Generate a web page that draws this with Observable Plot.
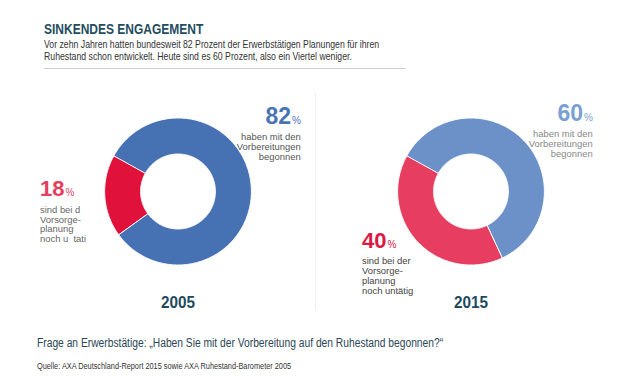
<!DOCTYPE html>
<html><head><meta charset="utf-8">
<script src="https://cdn.jsdelivr.net/npm/d3@7"></script>
<script src="https://cdn.jsdelivr.net/npm/@observablehq/plot@0.6"></script>
<style>
html,body{margin:0;padding:0;background:#fff;}
body{width:621px;height:383px;position:relative;overflow:hidden;font-family:"Liberation Sans",Arial,sans-serif;}
.t{position:absolute;white-space:nowrap;transform-origin:0 0;}
.blk{position:absolute;white-space:nowrap;}
.num{font-weight:bold;}
.num span{font-weight:normal;font-size:10px;margin-left:1px;}
.desc{font-size:8.8px;line-height:9.9px;white-space:pre;}
#chart{position:absolute;left:0;top:80px;}
</style></head><body>
<div class="t" id="title" style="left:44px;top:20.6px;font-size:15px;line-height:15px;font-weight:bold;color:#1f4d5f;transform:scaleX(0.8);">SINKENDES ENGAGEMENT</div>
<div class="t" style="left:44px;top:38.2px;font-size:11px;line-height:12.2px;color:#333;transform:scaleX(0.792);">Vor zehn Jahren hatten bundesweit 82 Prozent der Erwerbstätigen Planungen für ihren<br>Ruhestand schon entwickelt. Heute sind es 60 Prozent, also ein Viertel weniger.</div>
<div style="position:absolute;left:44px;top:68px;width:362px;height:1px;background:#cfcfcf;"></div>
<div style="position:absolute;left:315px;top:93px;width:1px;height:217px;background:#efefef;"></div>
<div id="chart"></div>
<div class="t" style="left:37px;top:337px;font-size:12px;line-height:12px;color:#2b4656;transform:scaleX(0.855);">Frage an Erwerbstätige: „Haben Sie mit der Vorbereitung auf den Ruhestand begonnen?“</div>
<div class="t" style="left:37px;top:362.3px;font-size:8.5px;line-height:8.5px;color:#333;transform:scaleX(0.863);">Quelle: AXA Deutschland-Report 2015 sowie AXA Ruhestand-Barometer 2005</div>
<script>
// ---- data ----
const years = ["2005", "2015"];
const slices = ["begonnen", "untätig"];
const values2005 = [82, 18];
const values2015 = [60, 40];
const colors2005 = ["#4672b4", "#e0113b"];
const colors2015 = ["#6b91c8", "#e63d61"];
const desc2005 = [["haben mit den", "Vorbereitungen", "begonnen"], ["sind bei d", "Vorsorge-", "planung", "noch u  tati"]];
const desc2015 = [["haben mit den", "Vorbereitungen", "begonnen"], ["sind bei der", "Vorsorge-", "planung", "noch untätig"]];

// ---- donut geometry built from the values ----
const startDeg = -61, outerR = 1, innerR = 0.51;
const pts = [];
years.forEach((yr, i) => {
  const vals = i ? values2015 : values2005;
  const cols = i ? colors2015 : colors2005;
  let acc = 0;
  vals.forEach((v, j) => {
    const a0 = startDeg + acc / 100 * 360, a1 = startDeg + (acc + v) / 100 * 360;
    acc += v;
    const n = Math.max(2, Math.ceil(a1 - a0));
    const key = yr + "-" + slices[j];
    for (let k = 0; k <= n; k++) {
      const a = (a0 + (a1 - a0) * k / n) * Math.PI / 180;
      pts.push({year: yr, key, color: cols[j], x: outerR * Math.sin(a), y: outerR * Math.cos(a)});
    }
    for (let k = n; k >= 0; k--) {
      const a = (a0 + (a1 - a0) * k / n) * Math.PI / 180;
      pts.push({year: yr, key, color: cols[j], x: innerR * Math.sin(a), y: innerR * Math.cos(a)});
    }
  });
});

const W = 621, mL = 30, mR = 4, mT = 16, mB = 30, plotH = 190, rPx = 73.5;
const Dx = ((W - mL - mR) / 2) / 2 / rPx;
const Dy = plotH / 2 / rPx;
const chart = Plot.plot({
  width: W, height: mT + plotH + mB,
  marginLeft: mL, marginRight: mR, marginTop: mT, marginBottom: mB,
  x: {domain: [-Dx, Dx], axis: null},
  y: {domain: [-Dy, Dy], axis: null},
  fx: {domain: years, padding: 0, axis: null},
  marks: [
    Plot.line(pts, {fx: "year", x: "x", y: "y", z: "key", fill: "color", stroke: "white", strokeWidth: 1, curve: "linear-closed"}),
    Plot.axisFx({anchor: "bottom", tickSize: 0, tickPadding: 9.5, label: null, fontSize: 17, fontWeight: "bold", fill: "#1d4a5e"})
  ]
});
chart.style.fontFamily = '"Liberation Sans", Arial, sans-serif';
chart.querySelectorAll("text").forEach(t => {
  t.setAttribute("textLength", "34");
  t.setAttribute("lengthAdjust", "spacingAndGlyphs");
});
document.getElementById("chart").appendChild(chart);

// ---- labels ----
function block(val, lines, pos, numSize, gap, numColor, descColor, align) {
  const d = document.createElement("div");
  d.className = "blk";
  Object.assign(d.style, pos, {textAlign: align});
  const origin = align === "right" ? "right top" : "left top";
  d.innerHTML = `<div class="num" style="color:${numColor};font-size:${numSize}px;line-height:${numSize}px">${val}<span>%</span></div>` +
    `<div class="desc" style="color:${descColor};margin-top:${gap}px;transform:scaleX(1.07);transform-origin:${origin}">${lines.join("<br>")}</div>`;
  document.body.appendChild(d);
}
block(values2005[0], desc2005[0], {right: (621 - 301) + "px", top: "104.5px"}, 23, 1.2, "#4a74b5", "#555", "right");
block(values2005[1], desc2005[1], {left: "40px", top: "178.1px"}, 22, 1.5, "#e2405f", "#666", "left");
block(values2015[0], desc2015[0], {right: (621 - 593) + "px", top: "102.2px"}, 23, 0.8, "#7a9fd2", "#888", "right");
block(values2015[1], desc2015[1], {left: "362px", top: "229.7px"}, 22, 1.5, "#d81b44", "#444", "left");
</script>
</body></html>
